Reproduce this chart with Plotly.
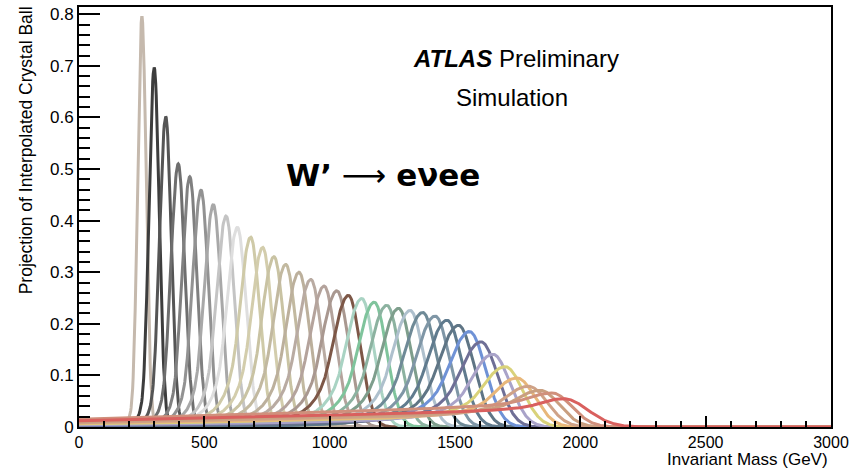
import numpy as np
import plotly.graph_objects as go

# ---- data ----
peak_mass = [251, 300, 346, 396, 442, 487, 536, 587, 632, 685, 733, 778, 825, 878,
             925, 978, 1029, 1075, 1128, 1178, 1228, 1275, 1321, 1371, 1421, 1468,
             1514, 1558, 1604, 1651, 1700, 1747, 1794, 1840, 1887, 1933]
peak_height = [0.795, 0.697, 0.602, 0.510, 0.485, 0.459, 0.431, 0.409, 0.387, 0.368,
               0.348, 0.330, 0.315, 0.300, 0.286, 0.273, 0.264, 0.255, 0.249, 0.242,
               0.236, 0.230, 0.226, 0.222, 0.215, 0.207, 0.197, 0.185, 0.165, 0.141,
               0.117, 0.095, 0.079, 0.071, 0.066, 0.055]
width_right = [17, 20, 22, 26, 28, 29, 31, 33, 35, 36, 38, 40, 42, 43, 44, 46, 47, 48,
               49, 50, 52, 53, 55, 57, 58, 60, 62, 64, 66, 68, 70, 72, 74, 76, 78, 96]
width_left = [17, 21, 25, 30, 32, 35, 38, 41, 44, 46, 49, 52, 55, 57, 59, 62, 64, 66,
              67, 69, 71, 73, 75, 78, 80, 82, 84, 86, 88, 90, 92, 94, 96, 98, 100, 96]
tail_start = [2.2, 2.0, 1.9, 1.8, 1.7, 1.6, 1.5, 1.4, 1.3, 1.2, 1.2, 1.2, 1.2, 1.2,
              1.2, 1.2, 1.2, 1.2, 1.2, 1.2, 1.2, 1.2, 1.2, 1.2, 1.2, 1.2, 1.2, 1.2,
              1.2, 1.2, 1.2, 1.2, 1.2, 1.2, 1.2, 1.2]
low_tail = [0, 0, 0, 0, 0, 0, 0, 0, 0, 0, 0, 0, 0, 0, 0, 0, 0, 0, 0, 0, 0, 0, 0, 0,
            0, 0, 0.001, 0.003, 0.003, 0.004, 0.006, 0.007, 0.008, 0.010, 0.015, 0.012]
curve_colors = ["#c5b9ad", "#3d3d3d", "#555555", "#6e6e6e", "#808080", "#929292",
                "#a8a8a8", "#c4c4c4", "#dedede", "#cfcaa8", "#d3cdac", "#c9c3a3",
                "#c2b9a0", "#bcb09c", "#b9aba2", "#b4a39c", "#a99890", "#7d5747",
                "#a9d3c3", "#7fc49c", "#8cb2a0", "#7e9e8c", "#aec0cd", "#6f8a97",
                "#7f96a6", "#607b8e", "#5f7585", "#6f92d6", "#6f6f96", "#a9a3c9",
                "#d9d27a", "#e8b77a", "#cfa287", "#c99f80", "#d0907c", "#d9605e"]
x_ticks = [0, 500, 1000, 1500, 2000, 2500, 3000]
y_ticks = [0, 0.1, 0.2, 0.3, 0.4, 0.5, 0.6, 0.7, 0.8]
y_tick_text = ["0", "0.1", "0.2", "0.3", "0.4", "0.5", "0.6", "0.7", "0.8"]

CB_N = 2.5

mass = np.linspace(0, 3000, 1501)


def crystal_ball(xv, mu, sl, sr, alpha, n):
    t = np.where(xv < mu, (xv - mu) / sl, (xv - mu) / sr)
    out = np.exp(-0.5 * t * t)
    A = (n / alpha) ** n * np.exp(-0.5 * alpha ** 2)
    B = n / alpha - alpha
    m = t < -alpha
    out[m] = A * (B - t[m]) ** (-n)
    return out


fig = go.Figure()
for mu, h, sl, sr, a, t0, col in zip(peak_mass, peak_height, width_left, width_right,
                                     tail_start, low_tail, curve_colors):
    c = crystal_ball(mass, mu, sl, sr, a, CB_N)
    y = h * c
    if t0 > 0:
        ped = t0 + (2.75 * t0 - t0) * mass / mu
        left = mass < mu
        y[left] = h * c[left] + (1 - c[left]) * ped[left]
    fig.add_trace(go.Scatter(x=mass, y=y, mode="lines",
                             line=dict(color=col, width=3),
                             showlegend=False, hoverinfo="skip"))

FONT = "Liberation Sans, Arial, sans-serif"

fig.update_layout(
    width=866, height=469,
    margin=dict(l=79, r=35, t=5, b=42),
    paper_bgcolor="white", plot_bgcolor="white",
    font=dict(family=FONT, color="black", size=17),
    xaxis=dict(range=[0, 3000], tickvals=x_ticks, ticks="inside", ticklen=11,
               tickwidth=1.5, tickcolor="black", showline=True, linecolor="black",
               linewidth=2, mirror=True, showgrid=False, zeroline=False,
               tickfont=dict(size=16, family=FONT),
               minor=dict(dtick=100, ticks="inside", ticklen=6, tickwidth=1.5,
                          tickcolor="black", showgrid=False)),
    yaxis=dict(range=[0, 0.814], tickvals=y_ticks, ticktext=y_tick_text,
               ticks="inside", ticklen=21, tickwidth=1.5, tickcolor="black",
               showline=True, linecolor="black", linewidth=2, mirror=True,
               showgrid=False, zeroline=False, tickfont=dict(size=17, family=FONT),
               minor=dict(dtick=0.02, tick0=0, ticks="inside", ticklen=11,
                          tickwidth=1.5, tickcolor="black", showgrid=False)),
)

fig.add_annotation(text="Projection of Interpolated Crystal Ball", textangle=-90,
                   xref="paper", yref="paper", x=(26 - 79) / 752, y=(427 - 149) / 422,
                   xanchor="center", yanchor="middle", showarrow=False,
                   font=dict(size=17.5, family=FONT))
fig.add_annotation(text="Invariant Mass (GeV)", xref="paper", yref="paper",
                   x=(830 - 79) / 752, y=(427 - 460) / 422, xanchor="right",
                   yanchor="middle", showarrow=False, font=dict(size=17, family=FONT))
fig.add_annotation(text="<b><i>ATLAS</i></b> Preliminary", xref="paper", yref="paper",
                   x=(516 - 79) / 752, y=(427 - 57) / 422, xanchor="center",
                   yanchor="middle", showarrow=False, font=dict(size=24, family=FONT))
fig.add_annotation(text="Simulation", xref="paper", yref="paper",
                   x=(512 - 79) / 752, y=(427 - 96) / 422, xanchor="center",
                   yanchor="middle", showarrow=False, font=dict(size=24, family=FONT))
fig.add_annotation(text="<b>W’</b> ⟶ <b>eνee</b>",
                   xref="paper", yref="paper",
                   x=(383 - 79) / 752, y=(427 - 174) / 422, xanchor="center",
                   yanchor="middle", showarrow=False,
                   font=dict(size=31, family="DejaVu Sans, sans-serif"))

fig.write_html("out.html")
